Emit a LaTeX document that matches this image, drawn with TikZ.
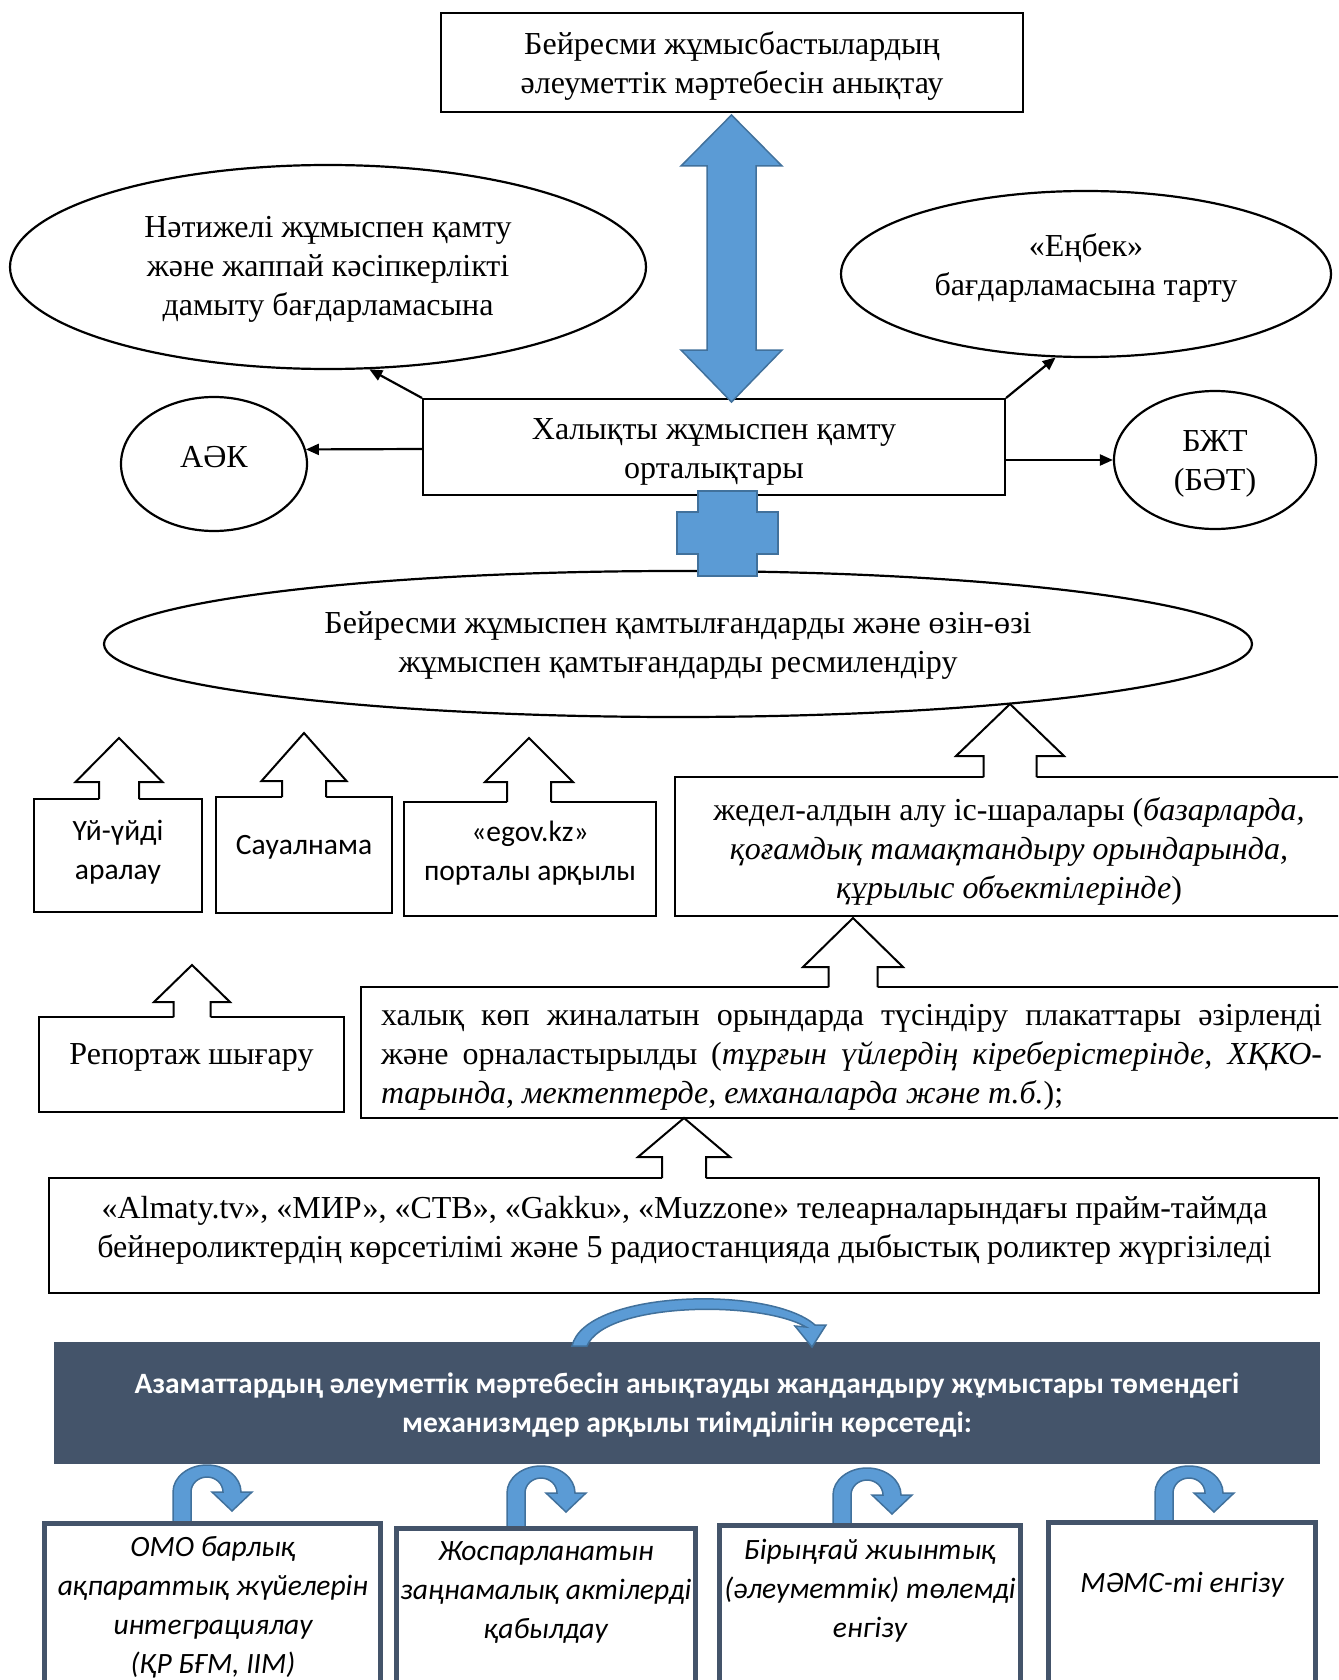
\documentclass[tikz,border=0pt]{standalone}
\usepackage{fontspec}
\setmainfont{Liberation Serif}
\newfontfamily\calfont{Carlito}
\usetikzlibrary{shapes.geometric,calc,arrows.meta}
\definecolor{bfill}{HTML}{5B9BD5}
\definecolor{bline}{HTML}{41719C}
\definecolor{slate}{HTML}{44546A}
\newcommand\upblock[6]{%
  \fill[white] (#1,#2) -- (#1+#5,#3) -- (#1+#6,#3) -- (#1+#6,#4+2) -- (#1-#6,#4+2) -- (#1-#6,#3) -- (#1-#5,#3) -- cycle;
  \draw[outarr] (#1-#6,#4) -- (#1-#6,#3) -- (#1-#5,#3) -- (#1,#2) -- (#1+#5,#3) -- (#1+#6,#3) -- (#1+#6,#4);}
\newcommand\uturn[3]{% #1 left x, #2 top y, #3 bottom y
  \filldraw[bluesh] (#1,#3) -- (#1,#2+27) arc[start angle=180,end angle=360,x radius=34,y radius=27]
    -- (#1+79,#2+27) -- (#1+59,#2+46) -- (#1+39,#2+27) -- (#1+50,#2+27)
    arc[start angle=0,end angle=-180,x radius=16,y radius=15] -- (#1+18,#3) -- cycle;}
\begin{document}
\begin{tikzpicture}[x=1pt,y=-1pt,
  box/.style={draw=black,line width=2pt,fill=white,inner sep=0pt},
  ell/.style={ellipse,draw=black,line width=2.2pt,fill=white,inner sep=0pt},
  sbox/.style={draw=slate,line width=5pt,fill=white,inner sep=0pt},
  txt/.style={font=\fontsize{32}{39}\selectfont,align=center,inner sep=0pt,yshift=-3pt},
  stxt/.style={font=\calfont\fontsize{29.5}{39}\selectfont,align=center,inner sep=0pt,yshift=-3pt},
  itxt/.style={font=\calfont\itshape\fontsize{29.5}{39}\selectfont,align=center,inner sep=0pt,yshift=-3pt},
  btxt/.style={font=\calfont\bfseries\fontsize{29.5}{39}\selectfont,text=white,align=center,inner sep=0pt,yshift=-2pt},
  conn/.style={-{Triangle[length=13pt,width=11pt]},line width=2.2pt},
  outarr/.style={draw=black,line width=2pt,line join=miter},
  bluesh/.style={fill=bfill,draw=bline,line width=1.5pt,line join=miter}]
\useasboundingbox (0,0) rectangle (1338,1680);
\clip (0,0) rectangle (1338,1680);
\fill[white] (0,0) rectangle (1338,1680);

% top part
\node[box,minimum width=582pt,minimum height=99pt] (topbox) at (732,62.5) {};
\node[txt] (toptxt) at (732,63) {Бейресми жұмысбастылардың\\әлеуметтік мәртебесін анықтау};
\node[ell,minimum width=636pt,minimum height=204pt] (lell) at (328,267) {};
\node[txt] (lelltxt) at (328,266) {Нәтижелі жұмыспен қамту\\және жаппай кәсіпкерлікті\\дамыту бағдарламасына};
\node[ell,minimum width=490pt,minimum height=166pt] (rell) at (1086,274) {};
\node[txt] (relltxt) at (1086,265) {«Еңбек»\\бағдарламасына тарту};
\node[box,minimum width=582pt,minimum height=96pt] (mid) at (714,447) {};
\node[txt] (midtxt) at (714,449) {Халықты жұмыспен қамту\\орталықтары};
\node[ell,minimum width=186pt,minimum height=134pt] (aek) at (214,464) {};
\node[txt] (aektxt) at (214,454) {АӘК};
\node[ell,minimum width=202pt,minimum height=138pt] (bzt) at (1215,460) {};
\node[txt] (bzttxt) at (1215,461) {БЖТ\\(БӘТ)};
\node[ell,minimum width=1148pt,minimum height=146pt] (big) at (678,644) {};
\node[txt] (bigtxt) at (678,642) {Бейресми жұмыспен қамтылғандарды және өзін-өзі\\жұмыспен қамтығандарды ресмилендіру};

\draw[conn] (mid.north west) -- (lell.-68);
\draw[conn] (mid.north east) -- (rell.-110);
\draw[conn] ($(mid.west)+(0,2)$) -- (aek.9.4);
\draw[conn] ($(mid.east)+(0,13)$) -- (bzt.west);

% blue double arrow
\filldraw[bluesh] (731.5,115) -- (782,166) -- (756,166) -- (756,350) -- (782,350) -- (731.5,402)
  -- (681,350) -- (707,350) -- (707,166) -- (681,166) -- cycle;
% blue cross
\filldraw[bluesh] (698,491) -- (757,491) -- (757,512) -- (778,512) -- (778,554) -- (757,554) -- (757,576)
  -- (698,576) -- (698,554) -- (677,554) -- (677,512) -- (698,512) -- cycle;

% small boxes
\node[box,minimum width=168pt,minimum height=113pt] (boxA) at (118,855.5) {};
\node[stxt] (boxAtxt) at (118,849) {Үй-үйді\\аралау};
\node[box,minimum width=176pt,minimum height=116pt] (boxB) at (304,855) {};
\node[stxt] (boxBtxt) at (304,844) {Сауалнама};
\node[box,minimum width=252pt,minimum height=114pt] (boxC) at (530,859) {};
\node[stxt] (boxCtxt) at (530,850) {«egov.kz»\\порталы арқылы};
\node[box,minimum width=670pt,minimum height=139pt] (boxD) at (1010,846.5) {};
\node[txt] (boxDtxt) at (1009,848) {жедел-алдын алу іс-шаралары (\textit{базарларда,}\\\textit{қоғамдық тамақтандыру орындарында,}\\\textit{құрылыс объектілерінде})};
\node[box,minimum width=305pt,minimum height=95pt] (boxE) at (191.5,1064.5) {};
\node[txt] (boxEtxt) at (191.5,1054) {Репортаж шығару};
\node[box,minimum width=984pt,minimum height=131pt] (boxF) at (853,1052.5) {};
\node[txt,align=left] (boxFtxt) at (851.5,1054) {\makebox[941pt][s]{халық көп жиналатын орындарда түсіндіру плакаттары әзірленді}\\
  \makebox[941pt][s]{және орналастырылды (\textit{тұрғын үйлердің кіреберістерінде, ХҚКО-}}\\
  \makebox[941pt][l]{\textit{тарында, мектептерде, емханаларда және т.б.});}};
\node[box,minimum width=1270pt,minimum height=115pt] (boxG) at (684,1235.5) {};
\node[txt] (boxGtxt) at (684.5,1227) {«Almaty.tv», «МИР», «СТВ», «Gakku», «Muzzone» телеарналарындағы прайм-таймда\\бейнероликтердің көрсетілімі және 5 радиостанцияда дыбыстық роликтер жүргізіледі};

\upblock{119}{738}{782}{799}{43.5}{20}
\upblock{304}{733}{781}{797}{42.5}{22}
\upblock{529}{738}{782}{802}{44}{22}
\upblock{1010}{704}{756}{777}{54}{26.5}
\upblock{192}{965}{1002}{1017}{38}{18.5}
\upblock{853}{918}{967}{987}{50}{24.5}
\upblock{684}{1118}{1157}{1178}{46}{22}

% banner
\node[fill=slate,minimum width=1266pt,minimum height=122pt,inner sep=0pt] (banner) at (687,1403) {};
\node[btxt] (bannertxt) at (687,1403) {Азаматтардың әлеуметтік мәртебесін анықтауды жандандыру жұмыстары төмендегі\\механизмдер арқылы тиімділігін көрсетеді:};
% curved arrow
\filldraw[bluesh] (572,1346) .. controls (585,1290) and (770,1285) .. (815,1325) -- (826,1325) -- (812,1347)
  -- (795,1326) -- (806,1327) .. controls (760,1300) and (605,1302) .. (587,1346) -- cycle;

% u-turn arrows
\uturn{173}{1465}{1522}
\uturn{507}{1466}{1527}
\uturn{833}{1468}{1524}
\uturn{1155}{1466}{1521}

% bottom boxes
\node[sbox,minimum width=336pt,minimum height=176pt] (b1) at (212.5,1611.5) {};
\node[itxt] (b1txt) at (213,1604.5) {ОМО барлық\\ақпараттық жүйелерін\\интеграциялау\\(ҚР БҒМ, ІІМ)};
\node[sbox,minimum width=299pt,minimum height=171pt] (b2) at (546,1614) {};
\node[itxt] (b2txt) at (546,1589) {Жоспарланатын\\заңнамалық актілерді\\қабылдау};
\node[sbox,minimum width=301pt,minimum height=174pt] (b3) at (870,1612.5) {};
\node[itxt] (b3txt) at (870,1588) {Бірыңғай жиынтық\\(әлеуметтік) төлемді\\енгізу};
\node[sbox,minimum width=267pt,minimum height=177pt] (b4) at (1182,1611) {};
\node[itxt] (b4txt) at (1182,1582) {МӘМС-ті енгізу};
\end{tikzpicture}
\end{document}
